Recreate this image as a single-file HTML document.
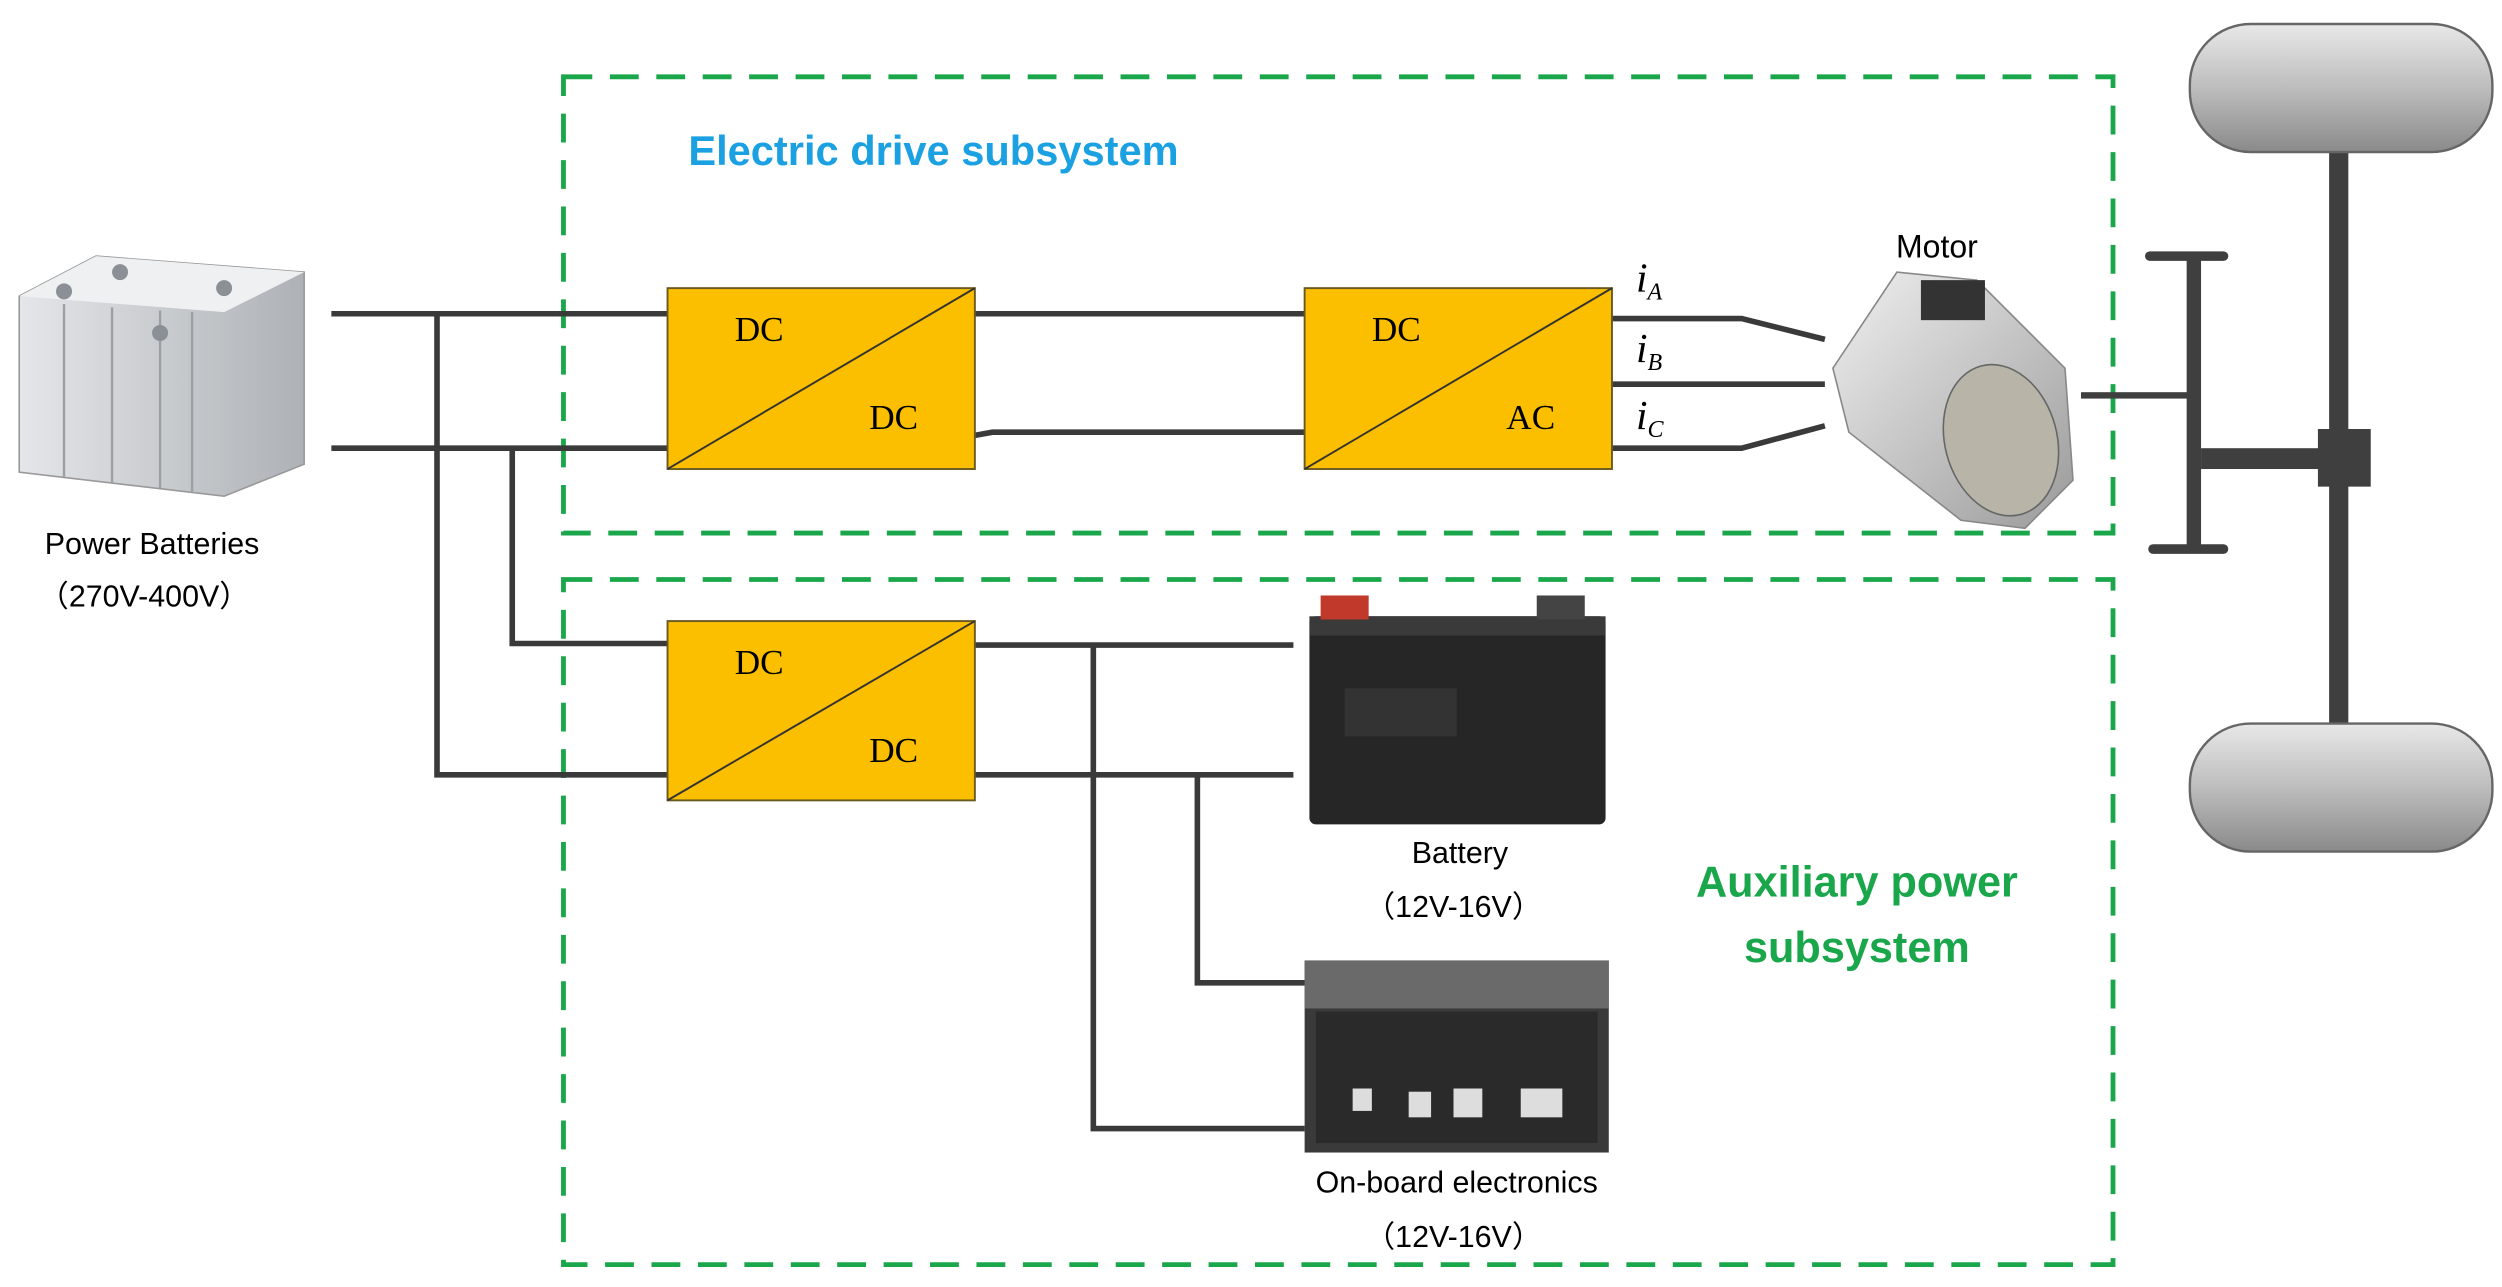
<!DOCTYPE html>
<html><head><meta charset="utf-8"><style>html,body{margin:0;padding:0;background:#fff}svg{display:block}</style></head>
<body>
<svg width="2502" height="1287" viewBox="0 0 1563 804" preserveAspectRatio="none" xmlns="http://www.w3.org/2000/svg">
<defs>
<linearGradient id="wg" x1="0" y1="0" x2="0" y2="1"><stop offset="0" stop-color="#e8e8e8"/><stop offset="0.5" stop-color="#bdbdbd"/><stop offset="1" stop-color="#8a8a8a"/></linearGradient>
<linearGradient id="mg" x1="0" y1="0" x2="1" y2="1"><stop offset="0" stop-color="#f0f0f0"/><stop offset="1" stop-color="#9a9a9a"/></linearGradient>
<linearGradient id="bg" x1="0" y1="0" x2="1" y2="0"><stop offset="0" stop-color="#e4e6e9"/><stop offset="1" stop-color="#aeb2b6"/></linearGradient>
</defs>
<g fill="none" stroke="#1aa64a" stroke-width="3" stroke-dasharray="18 11">
<rect x="352" y="48" width="968" height="285"/>
<rect x="352" y="362" width="968" height="428"/>
</g>
<text x="430" y="103" font-family="Liberation Sans,sans-serif" font-weight="bold" font-size="26" fill="#1ba1e2">Electric drive subsystem</text>
<text x="1160" y="560" text-anchor="middle" font-family="Liberation Sans,sans-serif" font-weight="bold" font-size="27" fill="#1aa64a">Auxiliary power</text>
<text x="1160" y="601" text-anchor="middle" font-family="Liberation Sans,sans-serif" font-weight="bold" font-size="27" fill="#1aa64a">subsystem</text>
<g fill="none" stroke="#3a3a3a" stroke-width="3.5">
<path d="M207 196H417M207 280H417M273 196V484H417M320 280V402H417"/>
<path d="M609 196H815M609 272L620 270H815"/>
<path d="M1007 199H1088L1140 212M1007 240H1140M1007 280H1088L1140 266"/>
<path d="M609 403H808M683 403V705H815M609 484H808M748 484V614H815"/>
</g>
<g stroke="#6a5a20" stroke-width="1.2" fill="#fcbf00">
<rect x="417" y="180" width="192" height="113"/>
<rect x="815" y="180" width="192" height="113"/>
<rect x="417" y="388" width="192" height="112"/>
</g>
<g stroke="#333" stroke-width="1.2">
<line x1="417" y1="293" x2="609" y2="180"/><line x1="815" y1="293" x2="1007" y2="180"/><line x1="417" y1="500" x2="609" y2="388"/>
</g>
<g font-family="Liberation Serif,serif" font-size="22" fill="#000">
<text x="459" y="213">DC</text><text x="543" y="268">DC</text>
<text x="857" y="213">DC</text><text x="941" y="268">AC</text>
<text x="459" y="421">DC</text><text x="543" y="476">DC</text>
</g>
<g font-family="Liberation Serif,serif" font-style="italic" fill="#000">
<text x="1022" y="182" font-size="26">i<tspan font-size="15" dy="5">A</tspan></text>
<text x="1022" y="226" font-size="26">i<tspan font-size="15" dy="5">B</tspan></text>
<text x="1022" y="268" font-size="26">i<tspan font-size="15" dy="5">C</tspan></text>
</g>
<text x="1210" y="161" text-anchor="middle" font-family="Liberation Sans,sans-serif" font-size="20">Motor</text>
<g>
<polygon points="1145,230 1185,170 1235,175 1290,230 1295,300 1265,330 1225,325 1155,270" fill="url(#mg)" stroke="#888"/>
<ellipse cx="1250" cy="275" rx="35" ry="48" fill="#b8b4a8" stroke="#666" transform="rotate(-15 1250 275)"/>
<rect x="1200" y="175" width="40" height="25" fill="#333"/>
</g>
<g fill="#3f3f3f">
<rect x="1300" y="245" width="72" height="4"/>
<rect x="1366" y="160" width="9" height="185"/>
<rect x="1340" y="157" width="52" height="6" rx="3"/>
<rect x="1342" y="340" width="50" height="6" rx="3"/>
<rect x="1375" y="280" width="75" height="13"/>
<rect x="1448" y="268" width="33" height="36"/>
<rect x="1455" y="95" width="12" height="360"/>
</g>
<rect x="1368" y="15" width="189" height="80" rx="38" fill="url(#wg)" stroke="#666" stroke-width="1.5"/>
<rect x="1368" y="452" width="189" height="80" rx="38" fill="url(#wg)" stroke="#666" stroke-width="1.5"/>
<g>
<polygon points="12,185 60,160 190,170 190,290 140,310 12,295" fill="url(#bg)" stroke="#999"/>
<polygon points="12,185 60,160 190,170 140,195" fill="#eef0f2"/>
<g stroke="#9aa0a6" stroke-width="1.5"><line x1="40" y1="190" x2="40" y2="298"/><line x1="70" y1="192" x2="70" y2="302"/><line x1="100" y1="194" x2="100" y2="305"/><line x1="120" y1="195" x2="120" y2="307"/></g>
<g fill="#8b9096"><circle cx="40" cy="182" r="5"/><circle cx="75" cy="170" r="5"/><circle cx="100" cy="208" r="5"/><circle cx="140" cy="180" r="5"/></g>
</g>
<text x="95" y="346" text-anchor="middle" font-family="Liberation Sans,sans-serif" font-size="19">Power Batteries</text>
<text x="90" y="379" text-anchor="middle" font-family="Liberation Sans,Noto Sans CJK SC,sans-serif" font-size="19">（270V-400V）</text>
<rect x="818" y="385" width="185" height="130" fill="#262626" rx="4"/>
<rect x="818" y="385" width="185" height="12" fill="#3a3a3a"/>
<rect x="840" y="430" width="70" height="30" fill="#333"/>
<rect x="825" y="372" width="30" height="15" fill="#c0392b"/>
<rect x="960" y="372" width="30" height="15" fill="#444"/>
<text x="912" y="539" text-anchor="middle" font-family="Liberation Sans,sans-serif" font-size="19">Battery</text>
<text x="908" y="573" text-anchor="middle" font-family="Liberation Sans,Noto Sans CJK SC,sans-serif" font-size="19">（12V-16V）</text>
<rect x="815" y="600" width="190" height="120" fill="#3a3a3a"/>
<rect x="815" y="600" width="190" height="30" fill="#6a6a6a"/>
<rect x="822" y="632" width="176" height="82" fill="#2a2a2a"/>
<g fill="#ddd"><rect x="845" y="680" width="12" height="14"/><rect x="880" y="682" width="14" height="16"/><rect x="908" y="680" width="18" height="18"/><rect x="950" y="680" width="26" height="18"/></g>
<text x="910" y="745" text-anchor="middle" font-family="Liberation Sans,sans-serif" font-size="19">On-board electronics</text>
<text x="908" y="779" text-anchor="middle" font-family="Liberation Sans,Noto Sans CJK SC,sans-serif" font-size="19">（12V-16V）</text>
</svg>
</body></html>
